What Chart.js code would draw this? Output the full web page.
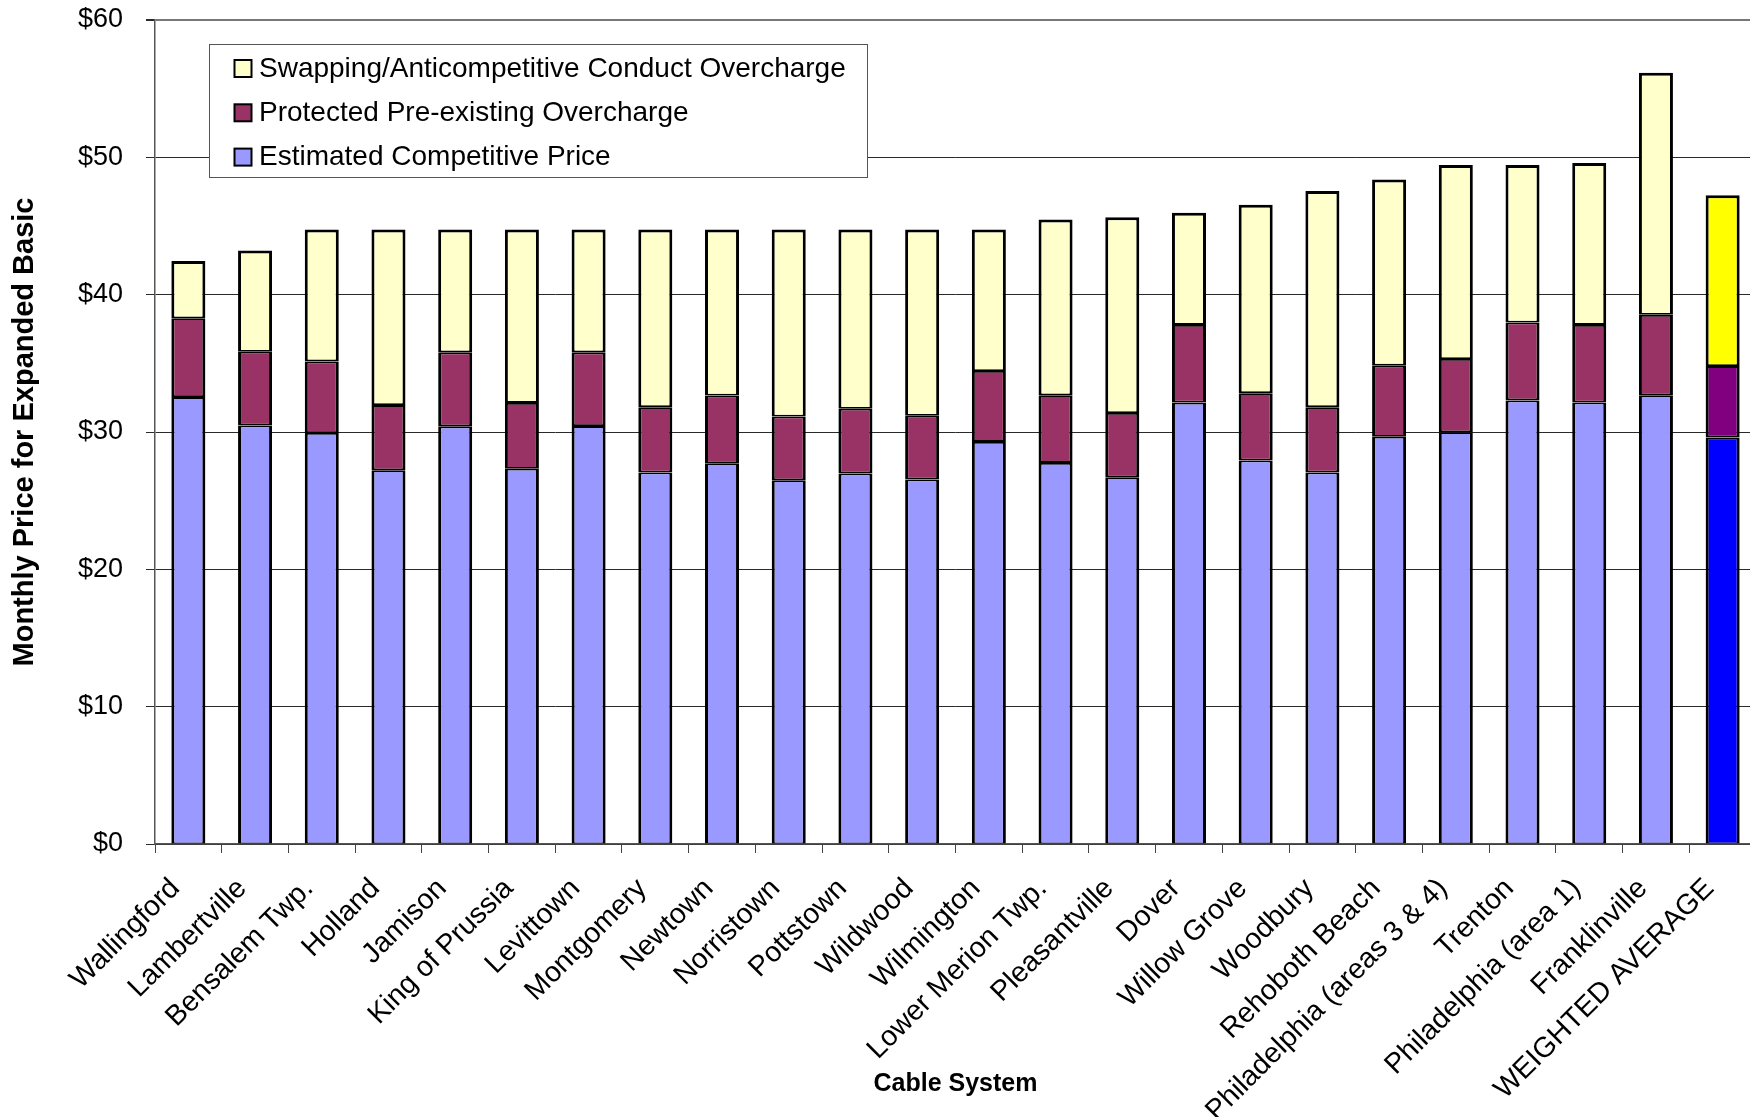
<!DOCTYPE html>
<html>
<head>
<meta charset="utf-8">
<title>Monthly Price for Expanded Basic by Cable System</title>
<script src="https://cdn.jsdelivr.net/npm/chart.js@4/dist/chart.umd.min.js"></script>
<style>
  html, body { margin: 0; padding: 0; background: #fff; overflow: hidden; }
  #wrap { width: 1756px; height: 1117px; }
  canvas { display: block; }
</style>
</head>
<body>
<div id="wrap"><canvas id="chart" width="1756" height="1117"></canvas></div>
<script>
// Cable systems, ordered by total monthly price; the weighted average closes the list
const categories = [
  'Wallingford', 'Lambertville', 'Bensalem Twp.', 'Holland', 'Jamison',
  'King of Prussia', 'Levittown', 'Montgomery', 'Newtown', 'Norristown',
  'Pottstown', 'Wildwood', 'Wilmington', 'Lower Merion Twp.', 'Pleasantville',
  'Dover', 'Willow Grove', 'Woodbury', 'Rehoboth Beach', 'Philadelphia (areas 3 & 4)',
  'Trenton', 'Philadelphia (area 1)', 'Franklinville', 'WEIGHTED AVERAGE'
];

// Estimated competitive price ($/month)
const competitivePrice = [
  32.54, 30.48, 29.93, 27.22, 30.41, 27.32, 30.43, 27.05, 27.72, 26.49,
  26.98, 26.54, 29.28, 27.75, 26.71, 32.14, 27.92, 27.05, 29.65, 29.98,
  32.30, 32.15, 32.68, 29.60
];

// Protected pre-existing overcharge ($/month)
const protectedOvercharge = [
  5.74, 5.36, 5.21, 4.74, 5.39, 4.80, 5.37, 4.76, 4.93, 4.64,
  4.71, 4.64, 5.16, 4.93, 4.67, 5.66, 4.91, 4.76, 5.18, 5.34,
  5.67, 5.65, 5.85, 5.20
];

// Swapping / anticompetitive conduct overcharge ($/month)
const swappingOvercharge = [
  4.18, 7.37, 9.61, 12.79, 8.95, 12.63, 8.95, 12.94, 12.10, 13.62,
  13.06, 13.57, 10.31, 12.80, 14.25, 8.16, 13.71, 15.73, 13.55, 14.13,
  11.48, 11.79, 17.63, 12.44
];

// Y-axis tick values
const yTicks = [0, 10, 20, 30, 40, 50, 60];

const seriesNames = {
  competitive: 'Estimated Competitive Price',
  protected: 'Protected Pre-existing Overcharge',
  swapping: 'Swapping/Anticompetitive Conduct Overcharge'
};

const averageIndex = categories.indexOf('WEIGHTED AVERAGE');
const colorsFor = (base, strong) => categories.map((_, i) => i === averageIndex ? strong : base);

const FONT = "'Liberation Sans', Arial, Helvetica, sans-serif";

// Boxed legend drawn inside the plot, newest series on top
const boxLegend = {
  id: 'boxLegend',
  afterDraw(chart) {
    const { ctx, chartArea } = chart;
    const x = chartArea.left + 54.5, y = chartArea.top + 24.5;
    const w = 658, h = 133;
    ctx.save();
    ctx.fillStyle = '#ffffff';
    ctx.fillRect(x, y, w, h);
    ctx.strokeStyle = '#555555';
    ctx.lineWidth = 1;
    ctx.strokeRect(x, y, w, h);
    const items = chart.data.datasets.slice().reverse();
    ctx.font = '28px ' + FONT;
    ctx.textBaseline = 'middle';
    ctx.textAlign = 'left';
    items.forEach((ds, i) => {
      const cy = y + 23.5 + i * 44.3;
      ctx.fillStyle = ds.legendColor;
      ctx.fillRect(x + 25, cy - 8, 17, 17);
      ctx.strokeStyle = '#000';
      ctx.lineWidth = 2;
      ctx.strokeRect(x + 25, cy - 8, 17, 17);
      ctx.fillStyle = '#000';
      ctx.fillText(ds.label, x + 49.5, cy + 1);
    });
    ctx.restore();
  }
};

const barCommon = {
  borderColor: '#000000',
  borderSkipped: false,
  barPercentage: 0.51,
  categoryPercentage: 1.0,
  stack: 'price'
};

new Chart(document.getElementById('chart'), {
  type: 'bar',
  data: {
    labels: categories,
    datasets: [
      Object.assign({}, barCommon, {
        label: seriesNames.competitive,
        data: competitivePrice,
        backgroundColor: colorsFor('#9999FF', '#0000FF'),
        legendColor: '#9999FF',
        borderWidth: { top: 1.8, bottom: 1, left: 3, right: 3 }
      }),
      Object.assign({}, barCommon, {
        label: seriesNames.protected,
        data: protectedOvercharge,
        backgroundColor: colorsFor('#993366', '#800080'),
        legendColor: '#993366',
        borderWidth: { top: 1.8, bottom: 1.8, left: 3, right: 3 }
      }),
      Object.assign({}, barCommon, {
        label: seriesNames.swapping,
        data: swappingOvercharge,
        backgroundColor: colorsFor('#FFFFCC', '#FFFF00'),
        legendColor: '#FFFFCC',
        borderWidth: { top: 3, bottom: 1.8, left: 3, right: 3 }
      })
    ]
  },
  options: {
    responsive: false,
    animation: false,
    devicePixelRatio: 1,
    layout: { padding: { top: 20, right: 0, bottom: 0, left: 0 } },
    plugins: {
      legend: { display: false },
      tooltip: { enabled: false }
    },
    scales: {
      x: {
        stacked: true,
        offset: true,
        grid: {
          display: true,
          offset: true,
          drawOnChartArea: false,
          drawTicks: true,
          tickLength: 9,
          color: '#444444',
          lineWidth: 1
        },
        border: { display: true, color: '#555555', width: 1.5 },
        ticks: {
          autoSkip: false,
          minRotation: 45,
          maxRotation: 45,
          padding: 19,
          labelOffset: -13,
          color: '#000',
          font: { family: FONT, size: 28.5 }
        },
        title: {
          display: true,
          text: 'Cable System',
          color: '#000',
          font: { family: FONT, size: 25, weight: 'bold' },
          padding: { top: 0, bottom: 18 }
        },
        afterFit(scale) {
          scale.height = 273;
          scale.paddingLeft = 0;
          scale.paddingRight = 0;
        }
      },
      y: {
        stacked: true,
        min: 0,
        max: 60,
        afterBuildTicks(scale) { scale.ticks = yTicks.map(v => ({ value: v })); },
        grid: {
          drawTicks: true,
          tickLength: 9,
          color: ctx => (ctx.tick && ctx.tick.value === 60) ? '#777777' : '#2a2a2a',
          lineWidth: ctx => (ctx.tick && ctx.tick.value === 60) ? 2 : 1,
          tickColor: '#2a2a2a'
        },
        border: { display: true, color: '#555555', width: 1.5 },
        ticks: {
          padding: 23,
          color: '#000',
          font: { family: FONT, size: 27 },
          callback: v => '$' + v
        },
        title: {
          display: true,
          text: 'Monthly Price for Expanded Basic',
          color: '#000',
          font: { family: FONT, size: 29, weight: 'bold' },
          padding: { top: 8, bottom: 0 }
        },
        afterFit(scale) {
          scale.width = 155;
          scale.paddingTop = 0;
          scale.paddingBottom = 0;
        }
      }
    }
  },
  plugins: [boxLegend]
});
</script>
</body>
</html>
